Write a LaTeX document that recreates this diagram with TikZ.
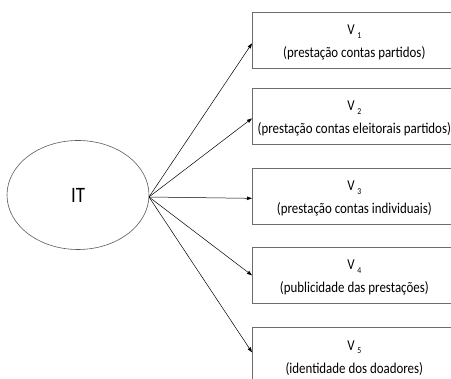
\documentclass[tikz,border=0pt]{standalone}
\usepackage{fontspec}
\setmainfont{Carlito}[FakeStretch=0.86]
\usetikzlibrary{arrows.meta,shapes.geometric}
\newcommand{\vsub}[1]{\,\raisebox{-3.5pt}{\fontsize{9}{9}\selectfont #1}}
\begin{document}
\begin{tikzpicture}[x=1pt,y=-1pt,
  varbox/.style={draw=gray!85!black,line width=0.7pt,minimum width=204pt,minimum height=56pt,
    anchor=north west,inner sep=0pt},
  vartext/.style={align=center,inner sep=0pt,font=\fontsize{15}{23}\selectfont},
  latent/.style={draw=gray!70!black,line width=0.6pt,ellipse,minimum width=142pt,minimum height=109pt,
    inner sep=0pt,font=\fontsize{22}{24}\selectfont},
  link/.style={-{Triangle[length=5pt,width=3.5pt]},line width=0.5pt}]
\useasboundingbox (0,0) rectangle (451,379);
\clip (0,0) rectangle (451,379);
% latent construct
\node[latent] (it) at (78,195) {IT};
\coordinate (src) at (149,197);
% observed indicators
\node[varbox] (b1) at (252,12) {};
\node[varbox] (b2) at (252,88) {};
\node[varbox] (b3) at (252,168) {};
\node[varbox] (b4) at (252,247) {};
\node[varbox] (b5) at (252,327) {};
\node[vartext] (t1) at ([yshift=-2.5pt]b1.center) {V\vsub{1}\\(prestação contas partidos)};
\node[vartext] (t2) at ([yshift=-2.5pt]b2.center) {V\vsub{2}\\(prestação contas eleitorais partidos)};
\node[vartext] (t3) at ([yshift=-2.5pt]b3.center) {V\vsub{3}\\(prestação contas individuais)};
\node[vartext] (t4) at ([yshift=-2.5pt]b4.center) {V\vsub{4}\\(publicidade das prestações)};
\node[vartext] (t5) at ([yshift=-2.5pt]b5.center) {V\vsub{5}\\(identidade dos doadores)};
\foreach \b/\dy in {b1/-3,b2/-2,b3/-2,b4/0,b5/3}
  \draw[link] (src) -- ([yshift=\dy pt]\b.west);
\end{tikzpicture}
\end{document}
